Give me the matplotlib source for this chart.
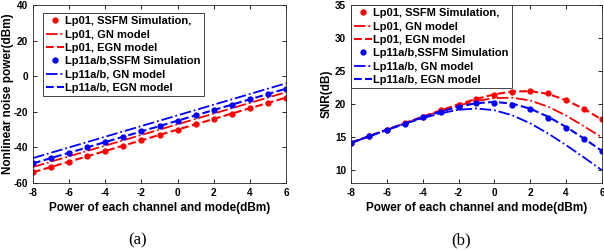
import matplotlib
matplotlib.use("Agg")
import matplotlib.pyplot as plt

power = [-8, -7, -6, -5, -4, -3, -2, -1, 0, 1, 2, 3, 4, 5, 6]

# Panel (a): nonlinear noise power (dBm)
nli_lp01_ssfm = [-54, -51, -48, -45, -42, -39, -36, -33, -30, -27, -24, -21, -18, -15, -12]
nli_lp01_gn   = [-51, -48, -45, -42, -39, -36, -33, -30, -27, -24, -21, -18, -15, -12, -9]
nli_lp01_egn  = [-54, -51, -48, -45, -42, -39, -36, -33, -30, -27, -24, -21, -18, -15, -12]
nli_lp11_ssfm = [-49, -46, -43, -40, -37, -34, -31, -28, -25, -22, -19, -16, -13, -10, -7]
nli_lp11_gn   = [-46, -43, -40, -37, -34, -31, -28, -25, -22, -19, -16, -13, -10, -7, -4]
nli_lp11_egn  = [-49, -46, -43, -40, -37, -34, -31, -28, -25, -22, -19, -16, -13, -10, -7]

# Panel (b): SNR (dB)
snr_lp01_ssfm = [14.1, 15.1, 16.1, 17.1, 18.0, 19.0, 19.9, 20.7, 21.4, 21.8, 22.0, 21.6, 20.6, 19.3, 17.7]
snr_lp01_gn   = [14.09, 15.09, 16.08, 17.06, 18.01, 18.93, 19.76, 20.45, 20.88, 20.94, 20.51, 19.57, 18.23, 16.60, 14.9]
snr_lp01_egn  = [14.10, 15.09, 16.09, 17.08, 18.06, 19.01, 19.93, 20.76, 21.45, 21.88, 21.94, 21.51, 20.57, 19.23, 17.60]
snr_lp11_ssfm = [14.1, 15.1, 16.0, 17.0, 18.0, 18.8, 19.5, 20.1, 20.2, 19.9, 19.2, 17.9, 16.4, 14.6, 12.8]
snr_lp11_gn   = [14.08, 15.06, 16.03, 16.96, 17.83, 18.57, 19.11, 19.30, 19.04, 18.27, 17.05, 15.50, 13.74, 11.87, 9.93]
snr_lp11_egn  = [14.09, 15.08, 16.07, 17.03, 17.96, 18.83, 19.57, 20.11, 20.30, 20.04, 19.27, 18.05, 16.50, 14.74, 12.87]

labels = ["Lp01, SSFM Simulation,", "Lp01, GN model", "Lp01, EGN model",
          "Lp11a/b,SSFM Simulation", "Lp11a/b, GN model", "Lp11a/b, EGN model"]

plt.rcParams['font.family'] = ['Liberation Sans', 'DejaVu Sans']
plt.rcParams['font.weight'] = 'bold'
plt.rcParams['axes.unicode_minus'] = False

fig = plt.figure(figsize=(6.04, 2.5), dpi=100)
ax1 = fig.add_axes([0.0546, 0.268, 0.419, 0.712])
ax2 = fig.add_axes([0.581, 0.268, 0.4156, 0.712])

def draw(ax, s01, g01, e01, s11, g11, e11):
    ax.plot(power, s01, 'o', color='red', ms=3.5, ls='none', label=labels[0])
    ax.plot(power, g01, '-.', color='red', lw=1.3, label=labels[1])
    ax.plot(power, e01, '--', color='red', lw=1.5, label=labels[2])
    ax.plot(power, s11, 'o', color='blue', ms=3.5, ls='none', label=labels[3])
    ax.plot(power, g11, '-.', color='blue', lw=1.3, label=labels[4])
    ax.plot(power, e11, '--', color='blue', lw=1.5, label=labels[5])
    ax.set_xlim(-8, 6)
    ax.set_xticks([-8, -6, -4, -2, 0, 2, 4, 6])
    ax.tick_params(direction='in', top=True, right=True, labelsize=7.2, length=3, width=0.6, pad=3.5)
    for lab in ax.get_xticklabels() + ax.get_yticklabels():
        lab.set_fontweight('bold')
    for sp in ax.spines.values():
        sp.set_linewidth(0.6)
        sp.set_color('#262626')
    ax.set_xlabel("Power of each channel and mode(dBm)", fontsize=8.5, fontweight='bold', labelpad=3)

draw(ax1, nli_lp01_ssfm, nli_lp01_gn, nli_lp01_egn, nli_lp11_ssfm, nli_lp11_gn, nli_lp11_egn)
ax1.set_ylim(-60, 40)
ax1.set_yticks([-60, -40, -20, 0, 20, 40])
ax1.set_ylabel("Nonlinear noise power(dBm)", fontsize=8.5, fontweight='bold')
ax1.yaxis.set_label_coords(-(33 - 14) / 253, 0.5)
leg1 = ax1.legend(loc='upper left', bbox_to_anchor=(0.04, 0.955), prop={'weight': 'bold', 'size': 8},
                  frameon=True, fancybox=False, edgecolor='#262626', framealpha=1,
                  handlelength=1.6, handletextpad=0.1, labelspacing=0.3, borderpad=0.3, borderaxespad=0)
leg1.get_frame().set_linewidth(0.6)

draw(ax2, snr_lp01_ssfm, snr_lp01_gn, snr_lp01_egn, snr_lp11_ssfm, snr_lp11_gn, snr_lp11_egn)
ax2.set_ylim(8, 35)
ax2.set_yticks([10, 15, 20, 25, 30, 35])
ax2.set_ylabel("SNR(dB)", fontsize=8.5, fontweight='bold')
ax2.yaxis.set_label_coords(-(351 - 333) / 251, 0.5)
leg2 = ax2.legend(loc='upper left', bbox_to_anchor=(0.0, 1.0), prop={'weight': 'bold', 'size': 8},
                  frameon=True, fancybox=False, edgecolor='#262626', framealpha=1,
                  handlelength=1.6, handletextpad=0.1, labelspacing=0.3, borderpad=0.3, borderaxespad=0)
leg2.get_frame().set_linewidth(0.6)

fig.text(138 / 604, 1 - 240 / 250, "(a)", ha='center', va='center', fontsize=12,
         family=['Liberation Serif', 'DejaVu Serif'], fontweight='normal')
fig.text(461 / 604, 1 - 240 / 250, "(b)", ha='center', va='center', fontsize=12,
         family=['Liberation Serif', 'DejaVu Serif'], fontweight='normal')

fig.savefig("out.png", dpi=100)
